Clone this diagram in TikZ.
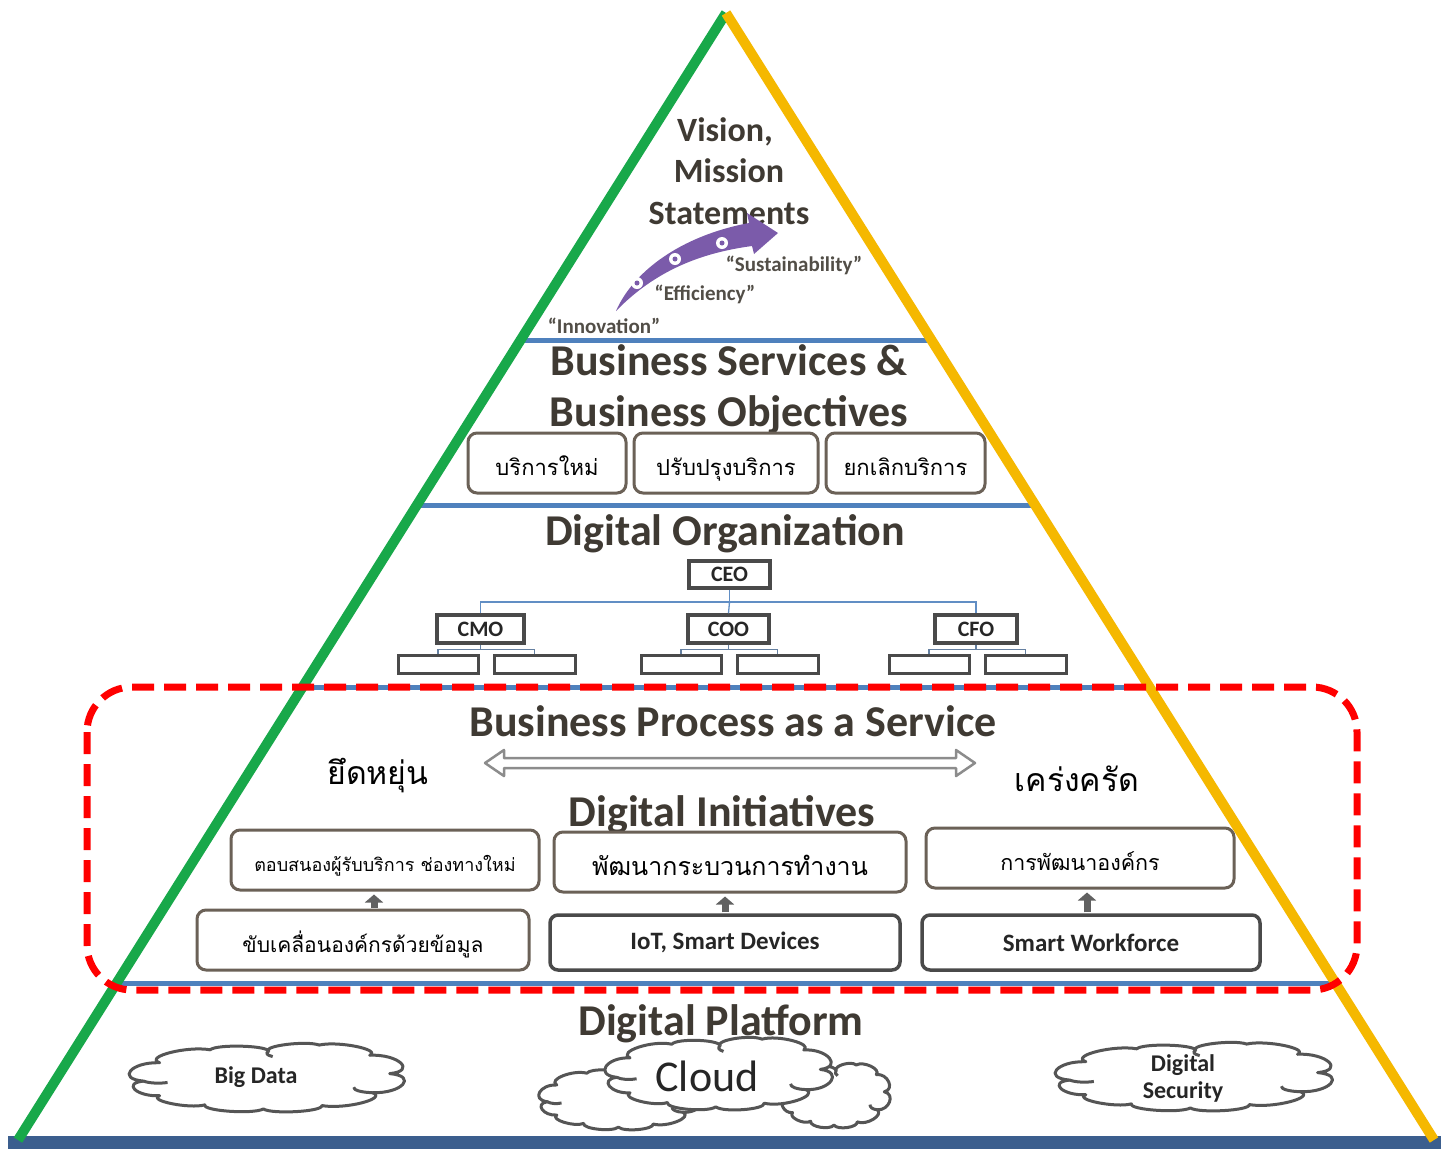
\documentclass[tikz,border=0pt]{standalone}
\usepackage{fontspec}
\setmainfont{Carlito}
\newfontfamily\thai[Script=Thai]{Loma}
\usetikzlibrary{arrows.meta,calc}
\definecolor{tgreen}{HTML}{18A84A}
\definecolor{tyellow}{HTML}{F5B800}
\definecolor{tblue}{HTML}{4F81BD}
\definecolor{tbar}{HTML}{3B5E8E}
\definecolor{thead}{HTML}{3F3A33}
\definecolor{tbox}{HTML}{6B6157}
\definecolor{tdark}{HTML}{4A4A4A}
\definecolor{tpurple}{HTML}{7B5BAA}
\definecolor{tred}{HTML}{FF0000}
\definecolor{tcloud}{HTML}{555555}
\definecolor{tarrow}{HTML}{8C8C8C}
\newcommand{\fs}[1]{\fontsize{#1}{#1}\selectfont}
\newcommand{\dn}[1]{\raisebox{-0.32em}{#1}}
% office-like cloud outline: centre x, centre y, width, height
\newcommand{\ocloud}[4]{%
  \begin{scope}[shift={(#1,#2)}, xscale=#3/2, yscale=#4/2]
    \filldraw[cloudline]
      (-0.92,0.12) to[bend left=85] (-0.80,-0.42) to[bend left=80] (-0.42,-0.80)
      to[bend left=80] (0.02,-0.76) to[bend left=80] (0.40,-0.94)
      to[bend left=80] (0.78,-0.64) to[bend left=85] (0.93,-0.10)
      to[bend left=85] (0.80,0.46) to[bend left=80] (0.42,0.84)
      to[bend left=80] (-0.02,0.94) to[bend left=80] (-0.46,0.82)
      to[bend left=85] (-0.80,0.55) to[bend left=85] (-0.92,0.12) -- cycle;
    \draw[cloudline] (-0.92,0.12) to[bend right=45] (-0.74,0.16);
    \draw[cloudline] (0.80,0.46) to[bend left=45] (0.66,0.30);
    \draw[cloudline] (0.02,-0.76) to[bend right=35] (0.05,-0.60);
  \end{scope}}
\begin{document}
\begin{tikzpicture}[x=1pt,y=-1pt,
  heading/.style={font=\bfseries\fs{44}, text=thead, inner sep=0, anchor=base},
  vmtext/.style={font=\bfseries\fs{34}, text=thead, inner sep=0, anchor=base},
  quote/.style={font=\bfseries\fs{21}, text=thead!90, inner sep=0},
  thaibox/.style={draw=tbox, line width=3pt, rounded corners=9pt, fill=white, inner sep=0, text=black, text height=1.2em, text depth=0.05em},
  engbox/.style={draw=tdark, line width=3.5pt, rounded corners=8pt, fill=white, inner sep=0, font=\bfseries\fs{25}, text=black!85},
  orgbox/.style={draw=tdark, line width=3.5pt, fill=white, inner sep=0, font=\bfseries\fs{22}, text=black!85},
  subbox/.style={draw=tdark, line width=3pt, fill=white, inner sep=0, minimum height=18pt},
  orgline/.style={draw=tblue!90, line width=1.3pt},
  subline/.style={draw=tblue!55!gray, line width=1.2pt},
  sepline/.style={draw=tblue, line width=5pt},
  uparrow/.style={draw=black!62, line width=7pt, -{Triangle[width=18pt,length=8pt]}, shorten <=1pt, shorten >=3pt},
  cloudline/.style={draw=tcloud, line width=3pt, fill=white, line join=round},
  cloudtext/.style={inner sep=0, text=black!85}]
\useasboundingbox (0,0) rectangle (1441,1149);
\fill[white] (0,0) rectangle (1441,1149);

% triangle corners
\coordinate (apex) at (726,13);
\coordinate (bl) at (18,1140);
\coordinate (br) at (1434,1140);

% separator lines
\draw[sepline] (518,340) -- (932,340);
\draw[sepline] (414,505) -- (1036,505);
\draw[sepline] (300,687) -- (1150,687);
\draw[sepline] (112,983) -- (1338,983);
\fill[tbar] (8,1136) rectangle (1441,1149);

% Vision
\node[vmtext] (v1) at (725,141) {Vision,};
\node[vmtext] (v2) at (729,182) {Mission};
\node[vmtext] (v3) at (729,224) {Statements};

% purple arrow
\fill[tpurple] (616,311) .. controls (633,272) and (680,236) .. (749,223)
  -- (747,213) -- (778,233) -- (754,254) -- (752,246)
  .. controls (700,253) and (655,271) .. (616,311) -- cycle;
\foreach \p in {(722,243),(675,259),(637,283)}{
  \fill[white] \p circle (6pt);
  \fill[tpurple] \p circle (2.5pt);
}
\node[quote] (q1) at (794,265) {“Sustainability”};
\node[quote] (q2) at (705,294) {“Efficiency”};
\node[quote] (q3) at (604,326) {“Innovation”};

% Business services
\node[heading] (bs1) at (729,375) {Business Services \&};
\node[heading] (bs2) at (729,426) {Business Objectives};
\node[thaibox, minimum width=158pt, minimum height=60pt, font=\thai\fs{22}] (b1) at (547,463) {\dn{บริการใหม่}};
\node[thaibox, minimum width=184pt, minimum height=60pt, font=\thai\fs{22}] (b2) at (726,463) {\dn{ปรับปรุงบริการ}};
\node[thaibox, minimum width=159pt, minimum height=60pt, font=\thai\fs{22}] (b3) at (905.5,463) {\dn{ยกเลิกบริการ}};

% Digital organization
\node[heading] (dorg) at (725,545) {Digital Organization};
\node[orgbox, minimum width=81pt, minimum height=27pt] (ceo) at (729.5,574.5) {CEO};
\node[orgbox, minimum width=87pt, minimum height=28pt] (cmo) at (480.5,629) {CMO};
\node[orgbox, minimum width=81pt, minimum height=28pt] (coo) at (728.5,629) {COO};
\node[orgbox, minimum width=82pt, minimum height=28pt] (cfo) at (976,629) {CFO};
\node[subbox, minimum width=80pt] (cmo1) at (438,664) {};
\node[subbox, minimum width=81pt] (cmo2) at (534.5,664) {};
\node[subbox, minimum width=80pt] (coo1) at (681,664) {};
\node[subbox, minimum width=81pt] (coo2) at (777.5,664) {};
\node[subbox, minimum width=80pt] (cfo1) at (929,664) {};
\node[subbox, minimum width=81pt] (cfo2) at (1025.5,664) {};
\coordinate (hub) at (729.5,602);
\draw[orgline] (ceo.south) -- (hub);
\draw[orgline] (cmo.north) |- (hub) -| (cfo.north);
\draw[orgline] (hub) -- (coo.north);
\foreach \a/\b in {cmo/cmo1,cmo/cmo2,coo/coo1,coo/coo2,cfo/cfo1,cfo/cfo2}{
  \draw[subline] (\a.south) -- ++(0,5) -| (\b.north);
}

% Business process
\node[heading] (bp) at (733,736) {Business Process as a Service};
\draw[draw=tarrow, line width=2.5pt, fill=white, line join=round]
  (485,763) -- (504,750) -- (504,758) -- (956,758) -- (956,750) -- (975,763)
  -- (956,776) -- (956,768) -- (504,768) -- (504,776) -- cycle;
\node[font=\thai\fs{32}, inner sep=0] (flex) at (378,776) {ยึดหยุ่น};
\node[font=\thai\fs{32}, inner sep=0] (strict) at (1077,779) {เคร่งครัด};

% Digital initiatives
\node[heading] (di) at (722,826) {Digital Initiatives};
\node[thaibox, minimum width=308pt, minimum height=60pt, font=\thai\fs{18}] (d1) at (385,860) {\dn{ตอบสนองผู้รับบริการ ช่องทางใหม่}};
\node[thaibox, minimum width=352pt, minimum height=60pt, font=\thai\fs{25}] (d2) at (730,862) {\dn{พัฒนากระบวนการทำงาน}};
\node[thaibox, minimum width=308pt, minimum height=60pt, font=\thai\fs{21.5}] (d3) at (1080,858) {\dn{การพัฒนาองค์กร}};
\node[thaibox, minimum width=332pt, minimum height=60pt, font=\thai\fs{21}] (e1) at (363,940) {\dn{ขับเคลื่อนองค์กรด้วยข้อมูล}};
\node[engbox, minimum width=350pt, minimum height=55pt] (e2) at (725,942.5) {IoT, Smart Devices};
\node[engbox, minimum width=338pt, minimum height=55pt] (e3) at (1091,942.5) {Smart Workforce};
\coordinate (a1) at ($(e1.north)!0.5!(d1.south)$);
\coordinate (a2) at (725,900);
\coordinate (a3) at (1087,900);
\draw[uparrow] (a1 |- e1.north) -- (a1 |- d1.south);
\draw[uparrow] (a2 |- e2.north) -- (a2 |- d2.south);
\draw[uparrow] (a3 |- e3.north) -- (a3 |- d3.south);

% Digital platform
\node[heading] (dp) at (721,1035) {Digital Platform};
\ocloud{266}{1077}{266}{68}
\node[cloudtext, font=\bfseries\fs{24}] (bigdata) at (256,1077) {Big Data};
\ocloud{620}{1098}{158}{62}
\ocloud{835}{1095}{106}{64}
\ocloud{718}{1073}{220}{72}
\node[cloudtext, font=\fs{44}] (cloud) at (707,1076) {Cloud};
\ocloud{1193}{1076}{268}{68}
\node[cloudtext, font=\bfseries\fs{24}, align=center] (dsec) at (1183,1078) {Digital\\[3pt]Security};

% triangle edges
\draw[tgreen, line width=10pt] (apex) -- (bl);
\draw[tyellow, line width=10pt] (apex) -- (br);

% red dashed frame
\draw[tred, line width=7pt, rounded corners=45pt, dash pattern=on 22pt off 10pt] (87,687) rectangle (1357,990);
\end{tikzpicture}
\end{document}
